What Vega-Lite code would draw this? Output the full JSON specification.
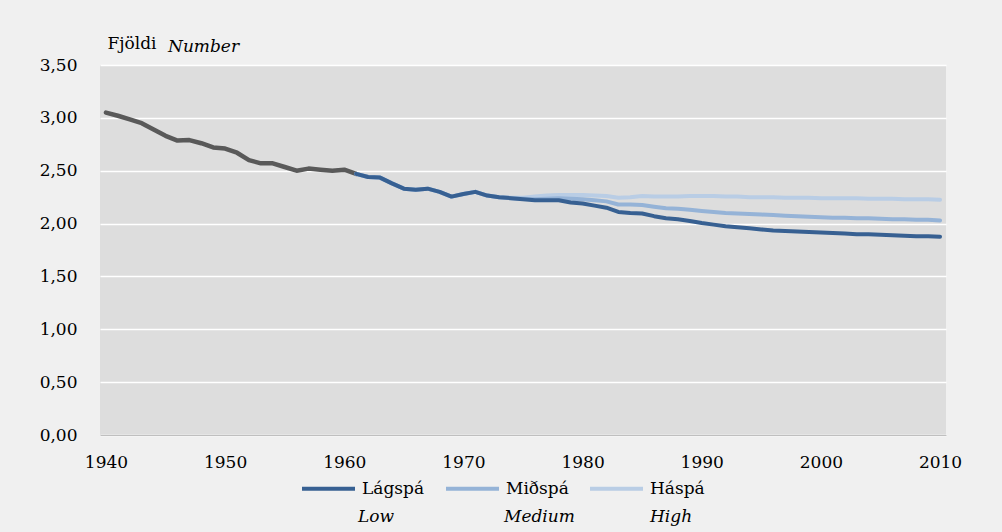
{
  "$schema": "https://vega.github.io/schema/vega-lite/v6.json",
  "width": 846,
  "height": 370,
  "autosize": {"type": "none"},
  "padding": {"left": 100, "top": 65, "right": 56, "bottom": 97},
  "background": "#f0f0f0",
  "title": {
    "text": "Number",
    "anchor": "start",
    "frame": "group",
    "dx": 68,
    "offset": -22,
    "font": "DejaVu Serif",
    "fontSize": 17,
    "fontStyle": "italic",
    "fontWeight": "normal",
    "color": "#000000"
  },
  "config": {
    "view": {"fill": "#dddddd", "stroke": null},
    "font": "DejaVu Serif",
    "axis": {
      "labelFont": "DejaVu Serif",
      "labelFontSize": 17,
      "labelColor": "#000000",
      "titleFont": "DejaVu Serif",
      "titleFontSize": 17,
      "titleFontWeight": "normal",
      "titleColor": "#000000"
    },
    "legend": {
      "labelFont": "DejaVu Serif",
      "labelFontSize": 17,
      "labelColor": "#000000"
    }
  },
  "data": {
    "values": [
      {"year": 1940, "hist": 3.05},
      {"year": 1941, "hist": 3.02},
      {"year": 1942, "hist": 2.985},
      {"year": 1943, "hist": 2.95},
      {"year": 1944, "hist": 2.89},
      {"year": 1945, "hist": 2.83},
      {"year": 1946, "hist": 2.785},
      {"year": 1947, "hist": 2.79},
      {"year": 1948, "hist": 2.76},
      {"year": 1949, "hist": 2.72},
      {"year": 1950, "hist": 2.71},
      {"year": 1951, "hist": 2.67},
      {"year": 1952, "hist": 2.6},
      {"year": 1953, "hist": 2.57},
      {"year": 1954, "hist": 2.57},
      {"year": 1955, "hist": 2.535},
      {"year": 1956, "hist": 2.5},
      {"year": 1957, "hist": 2.52},
      {"year": 1958, "hist": 2.51},
      {"year": 1959, "hist": 2.5},
      {"year": 1960, "hist": 2.51},
      {"year": 1961, "hist": 2.47, "low": 2.47, "med": 2.47, "high": 2.47},
      {"year": 1962, "low": 2.44, "med": 2.44, "high": 2.44},
      {"year": 1963, "low": 2.435, "med": 2.435, "high": 2.435},
      {"year": 1964, "low": 2.38, "med": 2.38, "high": 2.38},
      {"year": 1965, "low": 2.33, "med": 2.33, "high": 2.33},
      {"year": 1966, "low": 2.32, "med": 2.32, "high": 2.32},
      {"year": 1967, "low": 2.33, "med": 2.33, "high": 2.33},
      {"year": 1968, "low": 2.3, "med": 2.3, "high": 2.3},
      {"year": 1969, "low": 2.255, "med": 2.255, "high": 2.255},
      {"year": 1970, "low": 2.28, "med": 2.28, "high": 2.28},
      {"year": 1971, "low": 2.3, "med": 2.3, "high": 2.3},
      {"year": 1972, "low": 2.265, "med": 2.265, "high": 2.265},
      {"year": 1973, "low": 2.25, "med": 2.25, "high": 2.25},
      {"year": 1974, "low": 2.24, "med": 2.24, "high": 2.245},
      {"year": 1975, "low": 2.23, "med": 2.235, "high": 2.245},
      {"year": 1976, "low": 2.22, "med": 2.23, "high": 2.255},
      {"year": 1977, "low": 2.22, "med": 2.235, "high": 2.265},
      {"year": 1978, "low": 2.22, "med": 2.24, "high": 2.27},
      {"year": 1979, "low": 2.2, "med": 2.235, "high": 2.27},
      {"year": 1980, "low": 2.19, "med": 2.23, "high": 2.27},
      {"year": 1981, "low": 2.17, "med": 2.22, "high": 2.265},
      {"year": 1982, "low": 2.15, "med": 2.21, "high": 2.26},
      {"year": 1983, "low": 2.11, "med": 2.18, "high": 2.245},
      {"year": 1984, "low": 2.1, "med": 2.18, "high": 2.25},
      {"year": 1985, "low": 2.095, "med": 2.175, "high": 2.26},
      {"year": 1986, "low": 2.07, "med": 2.16, "high": 2.255},
      {"year": 1987, "low": 2.05, "med": 2.145, "high": 2.255},
      {"year": 1988, "low": 2.04, "med": 2.14, "high": 2.255},
      {"year": 1989, "low": 2.025, "med": 2.13, "high": 2.26},
      {"year": 1990, "low": 2.005, "med": 2.12, "high": 2.26},
      {"year": 1991, "low": 1.99, "med": 2.11, "high": 2.26},
      {"year": 1992, "low": 1.975, "med": 2.1, "high": 2.255},
      {"year": 1993, "low": 1.965, "med": 2.095, "high": 2.255},
      {"year": 1994, "low": 1.955, "med": 2.09, "high": 2.25},
      {"year": 1995, "low": 1.945, "med": 2.085, "high": 2.25},
      {"year": 1996, "low": 1.935, "med": 2.08, "high": 2.25},
      {"year": 1997, "low": 1.93, "med": 2.075, "high": 2.245},
      {"year": 1998, "low": 1.925, "med": 2.07, "high": 2.245},
      {"year": 1999, "low": 1.92, "med": 2.065, "high": 2.245},
      {"year": 2000, "low": 1.915, "med": 2.06, "high": 2.24},
      {"year": 2001, "low": 1.91, "med": 2.055, "high": 2.24},
      {"year": 2002, "low": 1.905, "med": 2.055, "high": 2.24},
      {"year": 2003, "low": 1.9, "med": 2.05, "high": 2.24},
      {"year": 2004, "low": 1.9, "med": 2.05, "high": 2.235},
      {"year": 2005, "low": 1.895, "med": 2.045, "high": 2.235},
      {"year": 2006, "low": 1.89, "med": 2.04, "high": 2.235},
      {"year": 2007, "low": 1.885, "med": 2.04, "high": 2.23},
      {"year": 2008, "low": 1.88, "med": 2.035, "high": 2.23},
      {"year": 2009, "low": 1.88, "med": 2.035, "high": 2.23},
      {"year": 2010, "low": 1.875, "med": 2.03, "high": 2.225}
    ]
  },
  "encoding": {
    "x": {
      "field": "year",
      "type": "quantitative",
      "scale": {"domain": [1939.5, 2010.5], "nice": false, "zero": false},
      "axis": {
        "values": [1940, 1950, 1960, 1970, 1980, 1990, 2000, 2010],
        "format": "d",
        "title": null,
        "grid": false,
        "ticks": false,
        "domain": true,
        "domainColor": "#bfbfbf",
        "domainWidth": 1,
        "labelPadding": 19,
        "labelFlush": false
      }
    }
  },
  "layer": [
    {
      "mark": {"type": "line", "color": "#595959", "strokeWidth": 4.5, "strokeCap": "round", "strokeJoin": "round"},
      "encoding": {
        "y": {
          "field": "hist",
          "type": "quantitative",
          "scale": {"domain": [0, 3.5], "nice": false},
          "axis": {
            "values": [0, 0.5, 1, 1.5, 2, 2.5, 3, 3.5],
            "labelExpr": "replace(format(datum.value, '.2f'), '.', ',')",
            "grid": true,
            "gridColor": "#ffffff",
            "gridWidth": 1.5,
            "ticks": false,
            "domain": false,
            "labelPadding": 23,
            "title": "Fjöldi",
            "titleAngle": 0,
            "titleAlign": "left",
            "titleBaseline": "alphabetic",
            "titleX": 7,
            "titleY": -17
          }
        }
      }
    },
    {
      "mark": {"type": "line", "strokeWidth": 4, "strokeCap": "round", "strokeJoin": "round"},
      "encoding": {
        "y": {"field": "high", "type": "quantitative"},
        "color": {"datum": "Háspá"},
        "opacity": {"datum": "High"}
      }
    },
    {
      "mark": {"type": "line", "strokeWidth": 4, "strokeCap": "round", "strokeJoin": "round"},
      "encoding": {
        "y": {"field": "med", "type": "quantitative"},
        "color": {"datum": "Miðspá"},
        "opacity": {"datum": "Medium"}
      }
    },
    {
      "mark": {"type": "line", "strokeWidth": 4, "strokeCap": "round", "strokeJoin": "round"},
      "encoding": {
        "y": {"field": "low", "type": "quantitative"},
        "color": {
          "datum": "Lágspá",
          "type": "nominal",
          "scale": {"domain": ["Lágspá", "Miðspá", "Háspá"], "range": ["#376092", "#95b3d7", "#b9cde5"]},
          "legend": {
            "title": null,
            "orient": "none",
            "direction": "horizontal",
            "legendX": 200,
            "legendY": 395,
            "symbolType": "stroke",
            "symbolSize": 2809,
            "symbolStrokeWidth": 4,
            "labelOffset": 5,
            "columnPadding": 13,
            "gridAlign": "all"
          }
        },
        "opacity": {
          "datum": "Low",
          "type": "ordinal",
          "scale": {"domain": ["Low", "Medium", "High"], "range": [1, 1, 1]},
          "legend": {
            "title": null,
            "orient": "none",
            "direction": "horizontal",
            "legendX": 200,
            "legendY": 425,
            "symbolType": "stroke",
            "symbolSize": 2809,
            "symbolStrokeColor": "transparent",
            "symbolStrokeWidth": 0,
            "labelOffset": 5,
            "labelFontStyle": "italic",
            "columnPadding": 17,
            "gridAlign": "all"
          }
        }
      }
    }
  ]
}
